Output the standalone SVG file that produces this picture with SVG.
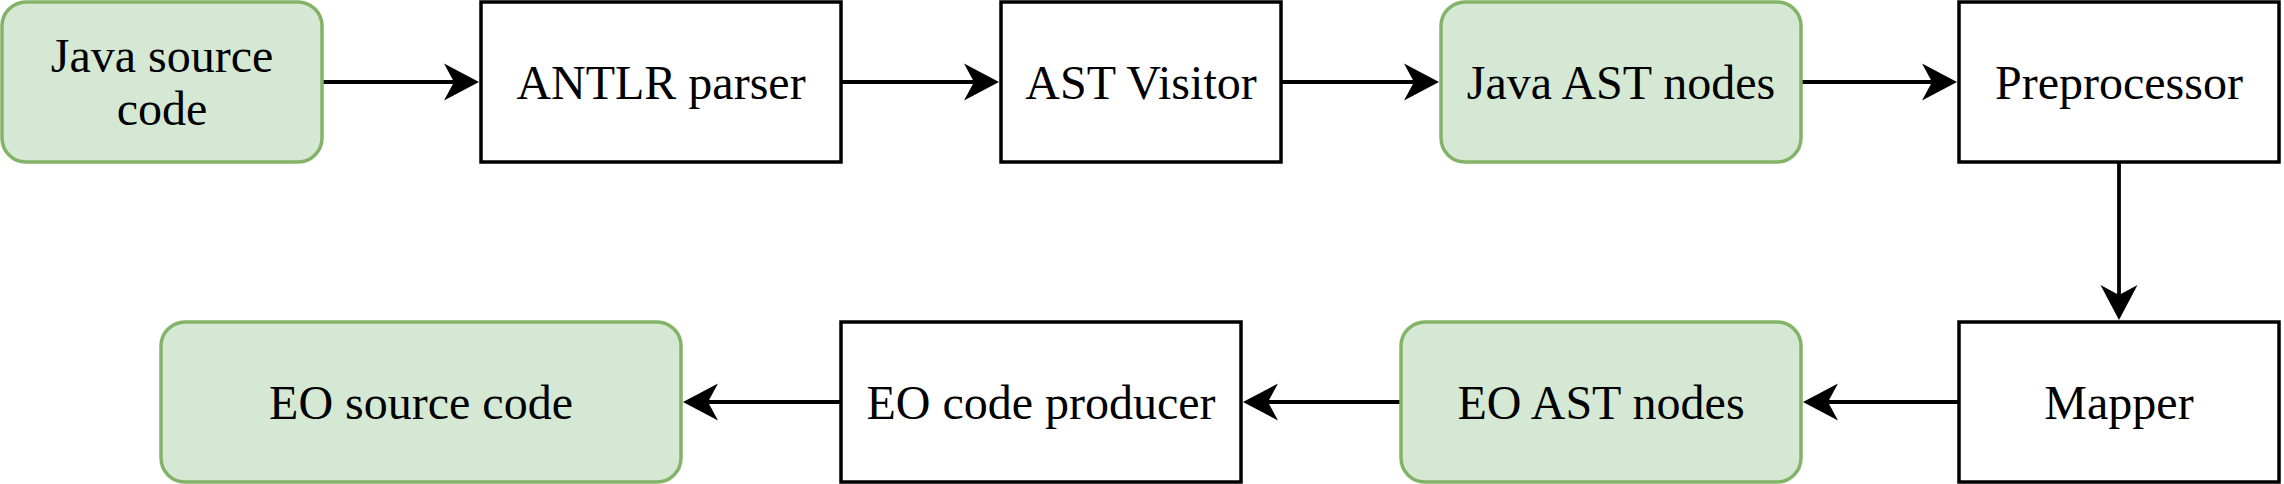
<svg xmlns="http://www.w3.org/2000/svg" width="2284" height="484" viewBox="0 0 2284 484">
<style>
.box{fill:#ffffff;stroke:#000000;stroke-width:3.5}
.green{fill:#d5e8d4;stroke:#82b366;stroke-width:3.5}
.lbl{font-family:"Liberation Serif","Times New Roman",serif;font-size:48px;fill:#000000;text-anchor:middle}
.edge{fill:none;stroke:#000000;stroke-width:3.8}
</style>
<defs>
<marker id="arr" viewBox="-36 -20 38 40" refX="-25" refY="0" markerWidth="38" markerHeight="40" markerUnits="userSpaceOnUse" orient="auto">
<path d="M0,0 L-35,-18.5 L-25,0 L-35,18.5 Z" fill="#000000"/>
</marker>
</defs>
<rect width="2284" height="484" fill="#ffffff"/>
<g id="connectors">
<line class="edge" x1="322" y1="82" x2="454" y2="82" marker-end="url(#arr)"/>
<line class="edge" x1="841" y1="82" x2="974" y2="82" marker-end="url(#arr)"/>
<line class="edge" x1="1281" y1="82" x2="1414" y2="82" marker-end="url(#arr)"/>
<line class="edge" x1="1801" y1="82" x2="1932" y2="82" marker-end="url(#arr)"/>
<line class="edge" x1="2119" y1="162" x2="2119" y2="295" marker-end="url(#arr)"/>
<line class="edge" x1="1959" y1="402" x2="1828" y2="402" marker-end="url(#arr)"/>
<line class="edge" x1="1401" y1="402" x2="1268" y2="402" marker-end="url(#arr)"/>
<line class="edge" x1="841" y1="402" x2="708" y2="402" marker-end="url(#arr)"/>
</g>
<g id="java-source">
<rect class="green" x="2" y="2" width="320" height="160" rx="24" ry="24"/>
<text class="lbl" x="162" y="72">Java source</text>
<text class="lbl" x="162" y="125">code</text>
</g>
<g id="antlr-parser">
<rect class="box" x="481" y="2" width="360" height="160"/>
<text class="lbl" x="661" y="99">ANTLR parser</text>
</g>
<g id="ast-visitor">
<rect class="box" x="1001" y="2" width="280" height="160"/>
<text class="lbl" x="1141" y="99">AST Visitor</text>
</g>
<g id="java-ast-nodes">
<rect class="green" x="1441" y="2" width="360" height="160" rx="24" ry="24"/>
<text class="lbl" x="1621" y="99">Java AST nodes</text>
</g>
<g id="preprocessor">
<rect class="box" x="1959" y="2" width="320" height="160"/>
<text class="lbl" x="2119" y="99">Preprocessor</text>
</g>
<g id="mapper">
<rect class="box" x="1959" y="322" width="320" height="160"/>
<text class="lbl" x="2119" y="419">Mapper</text>
</g>
<g id="eo-ast-nodes">
<rect class="green" x="1401" y="322" width="400" height="160" rx="24" ry="24"/>
<text class="lbl" x="1601" y="419">EO AST nodes</text>
</g>
<g id="eo-code-producer">
<rect class="box" x="841" y="322" width="400" height="160"/>
<text class="lbl" x="1041" y="419">EO code producer</text>
</g>
<g id="eo-source-code">
<rect class="green" x="161" y="322" width="520" height="160" rx="24" ry="24"/>
<text class="lbl" x="421" y="419">EO source code</text>
</g>
</svg>
